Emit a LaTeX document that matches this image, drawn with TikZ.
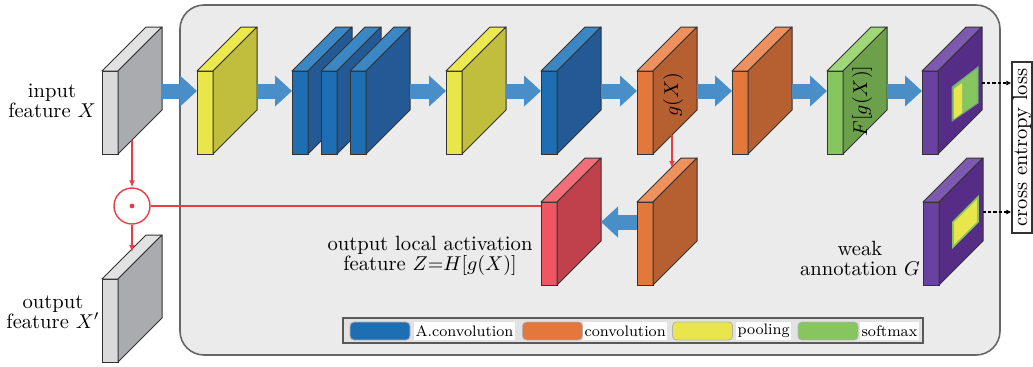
\documentclass[tikz,border=0pt]{standalone}
\usepackage{amsmath,amssymb}
\usepackage{tikz}
\usetikzlibrary{arrows.meta,calc}

% face colours: F = front, T = top, S = side
\definecolor{edge}{HTML}{333333}
\definecolor{grayF}{HTML}{DADADA}
\definecolor{grayT}{HTML}{E2E2E2}
\definecolor{grayS}{HTML}{AAABAF}
\definecolor{blueF}{HTML}{1E6EB4}
\definecolor{blueT}{HTML}{3A87C3}
\definecolor{blueS}{HTML}{235A96}
\definecolor{yellowF}{HTML}{E8E64B}
\definecolor{yellowT}{HTML}{ECE950}
\definecolor{yellowS}{HTML}{C0BE3C}
\definecolor{orangeF}{HTML}{E4783C}
\definecolor{orangeT}{HTML}{EE915F}
\definecolor{orangeS}{HTML}{B66032}
\definecolor{greenF}{HTML}{87C55F}
\definecolor{greenT}{HTML}{A0D778}
\definecolor{greenS}{HTML}{6CA04B}
\definecolor{purpleF}{HTML}{6941A0}
\definecolor{purpleT}{HTML}{7D5AAF}
\definecolor{purpleS}{HTML}{552D87}
\definecolor{redF}{HTML}{F05564}
\definecolor{redT}{HTML}{F26E78}
\definecolor{redS}{HTML}{C0414B}
\definecolor{flowblue}{HTML}{4A8EC8}
\definecolor{linered}{HTML}{EB3C46}
\definecolor{panelgray}{HTML}{EBEBEB}

% a feature slab: name, x and y of the front face corner, colour
\newcommand{\slab}[4]{%
  \node[slabface, fill=#4F] (#1) at (#2+8,#3+41.5) {};
  \filldraw[slabedge, fill=#4T] (#1.north west) -- ++(44,-44) -- ++(16,0) -- (#1.north east) -- cycle;
  \filldraw[slabedge, fill=#4S] (#1.north east) -- ++(44,-44) -- ++(0,83) -- (#1.south east) -- cycle;
  \coordinate (#1-in) at ($(#1.north west)+(0,20)$);
  \coordinate (#1-out) at ($(#1.north east)+(44,20)$);
}

\begin{document}
\begin{tikzpicture}[x=0.5pt, y=-0.5pt,
    every node/.style={font=\fontsize{10.3}{10}\selectfont},
    slabface/.style={draw=edge, line width=0.5pt, minimum width=8pt, minimum height=41.5pt, inner sep=0pt, outer sep=0pt},
    slabedge/.style={draw=edge, line width=0.5pt, line join=round},
    flow/.style={draw=flowblue, line width=7.5pt, -{Triangle[length=8.5pt, width=15pt]}},
    redarrow/.style={draw=linered, line width=0.7pt, -{Latex[length=3.5pt, width=3pt]}},
    lossarrow/.style={draw=black, line width=0.6pt, dash pattern=on 1.6pt off 1pt, -{Latex[length=2.5pt, width=2.5pt]}},
    swatch/.style={draw=gray!60, rounded corners=2pt, minimum width=30pt, minimum height=9pt, inner sep=0pt},
    keytext/.style={fill=white, anchor=west, inner xsep=0.6pt, inner ysep=1pt, minimum height=9pt, font=\fontsize{7.6}{9}\selectfont}]

    \useasboundingbox (0,0) rectangle (1033,366);

    % ================= PANEL =================
    \draw[fill=panelgray, draw=black!60, line width=0.8pt, rounded corners=12pt] (180,5) rectangle (1000,355);

    % ================= TOP ROW =================
    \slab{input}{102}{71}{gray}
    \slab{poolA}{197}{71}{yellow}
    \slab{aconvA}{292}{71}{blue}
    \slab{aconvB}{321}{71}{blue}
    \slab{aconvC}{350}{71}{blue}
    \slab{poolB}{446}{71}{yellow}
    \slab{aconvD}{541}{71}{blue}
    \slab{gx}{637}{71}{orange}
    \slab{conv}{732}{71}{orange}
    \slab{soft}{827}{71}{green}
    \slab{pred}{922}{71}{purple}

    % prediction map
    \filldraw[fill=greenF, draw=greenF!80!blue, line width=0.5pt] (952,87) -- (978,67) -- (978,103) -- (952,121) -- cycle;
    \fill[yellowF] (954,89) -- (962,83) -- (962,113) -- (954,119) -- cycle;

    \draw[flow] (input-out) -- (poolA-in);
    \draw[flow] (poolA-out) -- (aconvA-in);
    \draw[flow] (aconvC-out) -- (poolB-in);
    \draw[flow] (poolB-out) -- (aconvD-in);
    \draw[flow] (aconvD-out) -- (gx-in);
    \draw[flow] (gx-out) -- (conv-in);
    \draw[flow] (conv-out) -- (soft-in);
    \draw[flow] (soft-out) -- (pred-in);

    \node[rotate=90] (gxlabel) at (673,95) {$g(X)$};
    \node[rotate=90] (softlabel) at (862,101) {$F[g(X)]$};

    % ================= BOTTOM ROW =================
    \slab{output}{102}{279}{gray}
    \slab{act}{541}{202}{red}
    \slab{convb}{637}{202}{orange}
    \slab{gt}{923}{202}{purple}

    % weak annotation box
    \filldraw[fill=yellowF, draw=greenF, line width=0.8pt] (953,222) -- (978,197) -- (978,222) -- (953,247) -- cycle;

    \draw[flow] (convb-in) -- (act-out);

    % Gating
    \node[circle, draw=linered, line width=0.7pt, minimum size=18pt, inner sep=0pt] (mult) at (132,206) {};
    \fill[linered] (mult.center) circle (1.2pt);
    \coordinate (input-foot) at ($(input.south east)+(14,-14)$);
    \coordinate (output-top) at ($(output.north east)+(14,-27)$);
    \coordinate (gx-foot) at ($(gx.south east)+(19,-19)$);
    \coordinate (convb-top) at ($(convb.north east)+(19,-34)$);
    \draw[redarrow] (input-foot) -- (mult.north);
    \draw[redarrow] (mult.south) -- (output-top);
    \draw[redarrow] (gx-foot) -- (convb-top);
    \draw[draw=linered, line width=0.7pt] (mult.east) -- (mult -| act.west);

    % Loss
    \node[draw=black!80, line width=0.7pt, rotate=90, minimum width=85.5pt, minimum height=9pt, inner sep=0.3pt] (loss) at (1022,147.5) {cross entropy loss};
    \coordinate (pred-tip) at ($(pred.north east)+(44,12)$);
    \coordinate (gt-tip) at ($(gt.north east)+(44,10)$);
    \draw[lossarrow] (pred-tip) -- (pred-tip -| loss.north);
    \draw[lossarrow] (gt-tip) -- (gt-tip -| loss.north);

    % Labels
    \node[align=center] (inlabel) at (52,101) {input\\feature $X$};
    \node[align=center] (outlabel) at (53,312) {output\\feature $X'$};
    \node[align=center] (actlabel) at (430,256) {output local activation\\feature $Z{=}H[g(X)]$};
    \node[align=center] (gtlabel) at (860,258) {weak\\annotation $G$};

    % ================= LEGEND =================
    \node[draw=black!65, fill=panelgray!96!black, line width=0.8pt, minimum width=290pt, minimum height=12.5pt, inner sep=0pt] (legend) at (633,330.5) {};
    \node[swatch, fill=blueF] (keyA) at (380,331) {};
    \node[keytext] (keyAtext) at (414,331) {A.convolution};
    \node[swatch, fill=orangeF] (keyB) at (552.5,331) {};
    \node[keytext] (keyBtext) at (583,331) {convolution};
    \node[swatch, fill=yellowF] (keyC) at (702.5,331) {};
    \node[keytext] (keyCtext) at (736,331) {pooling};
    \node[swatch, fill=greenF] (keyD) at (828,331) {};
    \node[keytext] (keyDtext) at (860,331) {softmax};

\end{tikzpicture}
\end{document}
